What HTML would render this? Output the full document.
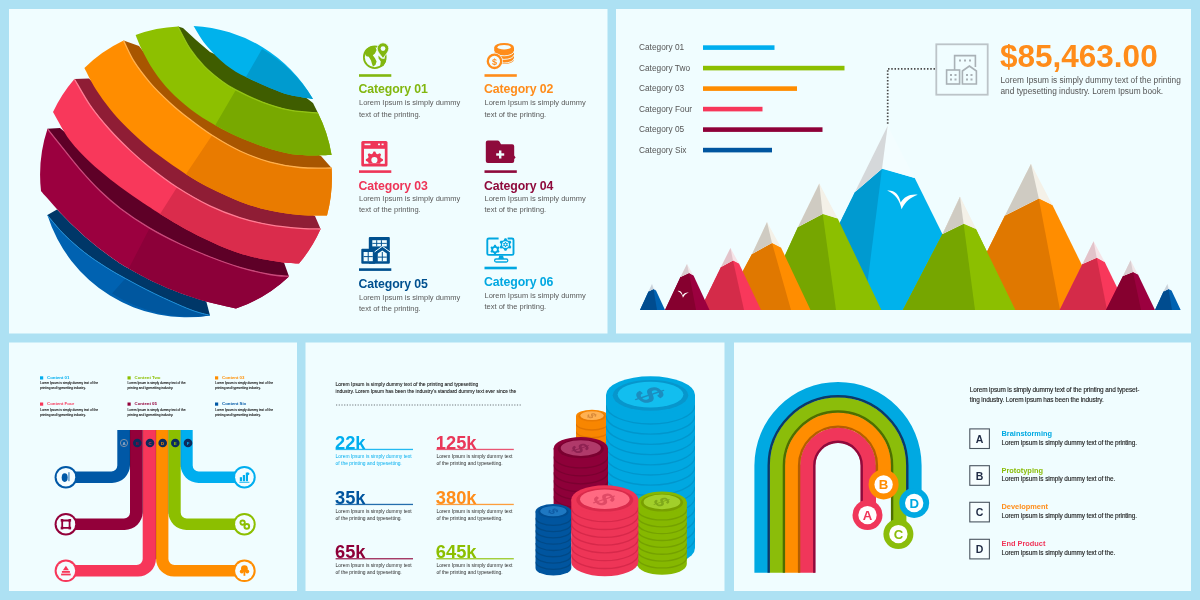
<!DOCTYPE html>
<html lang="en"><head><meta charset="utf-8"><title>Infographic dashboard</title>
<style>
html,body{margin:0;padding:0;background:#ADE1F3;}
body{width:1200px;height:600px;overflow:hidden;}
svg{display:block;font-family:"Liberation Sans",sans-serif;filter:blur(0.45px);}
</style></head><body>
<svg width="1200" height="600" viewBox="0 0 1200 600">
<rect x="0" y="0" width="1200" height="600" fill="#ADE1F3"/>
<rect x="9" y="9" width="598.5" height="324.5" fill="#F0FDFF"/>
<rect x="616" y="9" width="575" height="324.5" fill="#F0FDFF"/>
<rect x="9" y="342.5" width="288" height="248.5" fill="#F0FDFF"/>
<rect x="305.5" y="342.5" width="419.0" height="248.5" fill="#F0FDFF"/>
<rect x="734" y="342.5" width="457" height="248.5" fill="#F0FDFF"/>
<g id="sphere_part"><path d="M47.4,215.0L57.0,209.4C60.0,212.2 68.5,221.3 74.8,227.3 C81.1,233.3 88.2,239.7 94.9,245.1 C101.6,250.5 109.4,256.1 115.0,260.0 C120.6,263.9 122.0,264.8 128.7,268.6 C135.4,272.4 146.7,278.6 155.2,282.6 C163.7,286.6 171.0,289.7 179.5,292.8 C188.0,295.9 201.8,300.1 206.3,301.5L210.0,315.4C206.7,314.4 199.5,313.2 190.3,309.6 C181.1,306.0 165.4,298.9 154.6,293.7 C143.8,288.5 133.5,282.9 125.3,278.4 C117.1,273.9 112.0,271.0 105.2,266.7 C98.4,262.4 91.4,257.9 84.7,252.6 C78.0,247.3 70.7,240.9 64.9,235.2 C59.1,229.5 52.9,221.8 50.0,218.4 C47.1,215.0 47.8,215.6 47.4,215.0Z" fill="#003768"/>
<path d="M47.4,215.0C47.8,215.6 47.1,215.0 50.0,218.4 C52.9,221.8 59.1,229.5 64.9,235.2 C70.7,240.9 78.0,247.3 84.7,252.6 C91.4,257.9 98.4,262.4 105.2,266.7 C112.0,271.0 117.1,273.9 125.3,278.4 C133.5,282.9 143.8,288.5 154.6,293.7 C165.4,298.9 181.1,306.0 190.3,309.6 C199.5,313.2 206.7,314.4 210.0,315.4A146,146 0 0 1 47.4,215.0Z" fill="#0062B1"/>
<path d="M125.3,278.4C130.2,280.9 143.8,288.5 154.6,293.7 C165.4,298.9 181.1,306.0 190.3,309.6 C199.5,313.2 206.7,314.4 210.0,315.4A146,146 0 0 1 112.0,293.5Z" fill="#00579F"/>
<path d="M47.4,215.0C47.8,215.6 47.1,215.0 50.0,218.4 C52.9,221.8 59.1,229.5 64.9,235.2 C70.7,240.9 78.0,247.3 84.7,252.6 C91.4,257.9 98.4,262.4 105.2,266.7 C112.0,271.0 117.1,273.9 125.3,278.4 C133.5,282.9 143.8,288.5 154.6,293.7 C165.4,298.9 181.1,306.0 190.3,309.6 C199.5,313.2 206.7,314.4 210.0,315.4" fill="none" stroke="#1E8FD8" stroke-width="1"/>
<path d="M47.5,128.8L60.0,128.0L110.0,170.0L284.0,262.4L289.0,276.4C285.8,276.1 278.2,276.0 270.0,274.5 C261.8,273.0 249.8,270.2 239.8,267.3 C229.9,264.4 220.3,260.9 210.3,257.0 C200.3,253.1 190.1,248.8 180.0,244.0 C169.9,239.2 159.6,234.0 149.7,228.1 C139.8,222.2 128.7,214.7 120.4,208.4 C112.1,202.1 106.4,197.0 99.7,190.5 C93.0,184.0 86.9,177.3 80.2,169.6 C73.5,161.9 65.2,151.1 59.8,144.3 C54.3,137.5 49.5,131.4 47.5,128.8Z" fill="#5E0027"/>
<path d="M41.0,191.0A146,146 0 0 1 47.5,128.8C49.5,131.4 54.3,137.5 59.8,144.3 C65.2,151.1 73.5,161.9 80.2,169.6 C86.9,177.3 93.0,184.0 99.7,190.5 C106.4,197.0 112.1,202.1 120.4,208.4 C128.7,214.7 139.8,222.2 149.7,228.1 C159.6,234.0 169.9,239.2 180.0,244.0 C190.1,248.8 200.3,253.1 210.3,257.0 C220.3,260.9 229.9,264.4 239.8,267.3 C249.8,270.2 261.8,273.0 270.0,274.5 C278.2,276.0 285.8,276.1 289.0,276.4A146,146 0 0 1 236.0,308.5C231.1,307.3 215.7,304.1 206.3,301.5 C196.9,298.9 188.0,295.9 179.5,292.8 C171.0,289.7 163.7,286.6 155.2,282.6 C146.7,278.6 135.4,272.4 128.7,268.6 C122.0,264.8 120.6,263.9 115.0,260.0 C109.4,256.1 101.6,250.5 94.9,245.1 C88.2,239.7 81.1,233.3 74.8,227.3 C68.5,221.3 62.0,214.4 57.1,209.2 C52.2,203.9 47.8,198.8 45.1,195.8 C42.4,192.8 41.7,191.8 41.0,191.0Z" fill="#9B003F"/>
<path d="M149.7,228.1C154.8,230.8 169.9,239.2 180.0,244.0 C190.1,248.8 200.3,253.1 210.3,257.0 C220.3,260.9 229.9,264.4 239.8,267.3 C249.8,270.2 261.8,273.0 270.0,274.5 C278.2,276.0 285.8,276.1 289.0,276.4A146,146 0 0 1 236.0,308.5C231.1,307.3 215.7,304.1 206.3,301.5 C196.9,298.9 188.0,295.9 179.5,292.8 C171.0,289.7 163.7,286.6 155.2,282.6 C146.7,278.6 133.1,270.9 128.7,268.6Z" fill="#8C0039"/>
<path d="M47.5,128.8C49.5,131.4 54.3,137.5 59.8,144.3 C65.2,151.1 73.5,161.9 80.2,169.6 C86.9,177.3 93.0,184.0 99.7,190.5 C106.4,197.0 112.1,202.1 120.4,208.4 C128.7,214.7 139.8,222.2 149.7,228.1 C159.6,234.0 169.9,239.2 180.0,244.0 C190.1,248.8 200.3,253.1 210.3,257.0 C220.3,260.9 229.9,264.4 239.8,267.3 C249.8,270.2 261.8,273.0 270.0,274.5 C278.2,276.0 285.8,276.1 289.0,276.4" fill="none" stroke="#C9487A" stroke-width="1.3"/>
<path d="M74.4,79.0L89.0,78.6L130.0,120.0L315.0,216.0L320.6,229.0C317.2,228.9 308.8,229.1 300.4,228.4 C292.0,227.7 280.1,226.7 270.0,224.9 C259.9,223.1 249.6,220.8 239.6,217.6 C229.6,214.4 220.2,210.9 209.8,205.9 C199.4,200.9 187.1,193.8 177.0,187.3 C166.9,180.8 157.2,173.2 149.4,167.0 C141.6,160.8 136.5,156.3 129.9,150.1 C123.3,143.9 116.6,137.4 110.0,130.0 C103.4,122.6 96.2,114.1 90.3,105.6 C84.4,97.1 77.1,83.4 74.4,79.0Z" fill="#8F1D35"/>
<path d="M53.0,112.0A146,146 0 0 1 74.4,79.0C77.1,83.4 84.4,97.1 90.3,105.6 C96.2,114.1 103.4,122.6 110.0,130.0 C116.6,137.4 123.3,143.9 129.9,150.1 C136.5,156.3 141.6,160.8 149.4,167.0 C157.2,173.2 166.9,180.8 177.0,187.3 C187.1,193.8 199.4,200.9 209.8,205.9 C220.2,210.9 229.6,214.4 239.6,217.6 C249.6,220.8 259.9,223.1 270.0,224.9 C280.1,226.7 292.0,227.7 300.4,228.4 C308.8,229.1 317.2,228.9 320.6,229.0A146,146 0 0 1 299.0,263.6C295.8,263.3 288.2,263.2 280.0,262.0 C271.8,260.8 259.9,258.9 249.9,256.2 C239.9,253.5 230.1,250.0 220.1,245.9 C210.1,241.8 200.2,236.9 190.2,231.6 C180.2,226.3 166.9,218.0 160.1,213.9 C153.3,209.8 154.4,210.3 149.4,207.0 C144.4,203.7 136.6,198.5 130.1,193.9 C123.6,189.3 117.1,184.7 110.4,179.4 C103.7,174.1 96.7,168.6 89.9,162.1 C83.1,155.6 76.0,148.7 69.8,140.3 C63.6,132.0 55.8,116.7 53.0,112.0Z" fill="#F8385B"/>
<path d="M177.0,187.3C182.5,190.4 199.4,200.9 209.8,205.9 C220.2,210.9 229.6,214.4 239.6,217.6 C249.6,220.8 259.9,223.1 270.0,224.9 C280.1,226.7 292.0,227.7 300.4,228.4 C308.8,229.1 317.2,228.9 320.6,229.0A146,146 0 0 1 299.0,263.6C295.8,263.3 288.2,263.2 280.0,262.0 C271.8,260.8 259.9,258.9 249.9,256.2 C239.9,253.5 230.1,250.0 220.1,245.9 C210.1,241.8 200.2,236.9 190.2,231.6 C180.2,226.3 165.1,216.8 160.1,213.9Z" fill="#DA2C4C"/>
<path d="M74.4,79.0C77.1,83.4 84.4,97.1 90.3,105.6 C96.2,114.1 103.4,122.6 110.0,130.0 C116.6,137.4 123.3,143.9 129.9,150.1 C136.5,156.3 141.6,160.8 149.4,167.0 C157.2,173.2 166.9,180.8 177.0,187.3 C187.1,193.8 199.4,200.9 209.8,205.9 C220.2,210.9 229.6,214.4 239.6,217.6 C249.6,220.8 259.9,223.1 270.0,224.9 C280.1,226.7 292.0,227.7 300.4,228.4 C308.8,229.1 317.2,228.9 320.6,229.0" fill="none" stroke="#FF7C93" stroke-width="1.3"/>
<path d="M123.6,40.6L139.0,46.0L170.0,85.0L321.0,156.0L331.6,168.0C326.3,167.9 310.3,168.5 300.0,167.5 C289.7,166.5 279.9,164.8 269.9,162.1 C259.9,159.3 249.6,155.5 240.0,151.0 C230.4,146.5 220.5,140.6 212.1,135.3 C203.7,130.0 196.8,124.7 189.8,119.3 C182.8,113.9 176.7,109.0 170.1,102.9 C163.5,96.8 156.1,89.8 150.1,82.8 C144.1,75.8 138.3,68.2 133.9,61.2 C129.5,54.2 125.3,44.0 123.6,40.6Z" fill="#A85600"/>
<path d="M84.4,68.0A146,146 0 0 1 123.6,40.6C125.3,44.0 129.5,54.2 133.9,61.2 C138.3,68.2 144.1,75.8 150.1,82.8 C156.1,89.8 163.5,96.8 170.1,102.9 C176.7,109.0 182.8,113.9 189.8,119.3 C196.8,124.7 203.7,130.0 212.1,135.3 C220.5,140.6 230.4,146.5 240.0,151.0 C249.6,155.5 259.9,159.3 269.9,162.1 C279.9,164.8 289.7,166.5 300.0,167.5 C310.3,168.5 326.3,167.9 331.6,168.0A146,146 0 0 1 327.0,215.6C322.5,215.5 309.4,215.9 299.9,215.1 C290.4,214.3 279.8,212.8 269.9,210.6 C259.9,208.4 250.2,205.4 240.2,201.7 C230.2,197.9 219.1,192.7 210.0,188.1 C200.9,183.5 194.2,179.5 185.9,174.2 C177.6,168.9 167.5,161.8 159.9,156.1 C152.3,150.4 146.1,145.1 140.1,139.9 C134.1,134.7 129.1,129.9 124.1,124.8 C119.1,119.6 114.7,114.9 110.0,109.0 C105.3,103.1 100.1,96.1 95.8,89.3 C91.5,82.5 86.3,71.5 84.4,68.0Z" fill="#FF8D00"/>
<path d="M212.1,135.3C216.8,137.9 230.4,146.5 240.0,151.0 C249.6,155.5 259.9,159.3 269.9,162.1 C279.9,164.8 289.7,166.5 300.0,167.5 C310.3,168.5 326.3,167.9 331.6,168.0A146,146 0 0 1 327.0,215.6C322.5,215.5 309.4,215.9 299.9,215.1 C290.4,214.3 279.8,212.8 269.9,210.6 C259.9,208.4 250.2,205.4 240.2,201.7 C230.2,197.9 219.1,192.7 210.0,188.1 C200.9,183.5 189.9,176.5 185.9,174.2Z" fill="#E97B00"/>
<path d="M123.6,40.6C125.3,44.0 129.5,54.2 133.9,61.2 C138.3,68.2 144.1,75.8 150.1,82.8 C156.1,89.8 163.5,96.8 170.1,102.9 C176.7,109.0 182.8,113.9 189.8,119.3 C196.8,124.7 203.7,130.0 212.1,135.3 C220.5,140.6 230.4,146.5 240.0,151.0 C249.6,155.5 259.9,159.3 269.9,162.1 C279.9,164.8 289.7,166.5 300.0,167.5 C310.3,168.5 326.3,167.9 331.6,168.0" fill="none" stroke="#FFB04D" stroke-width="1.3"/>
<path d="M178.0,26.6L183.0,28.0L196.0,40.0L210.0,52.0L250.0,70.0L300.0,93.0L313.0,103.0L318.0,113.0C313.3,112.5 299.2,112.0 289.9,110.2 C280.6,108.4 271.3,105.5 262.3,102.1 C253.3,98.7 242.5,93.4 235.8,89.9 C229.1,86.4 227.1,85.1 221.9,81.2 C216.7,77.3 209.8,71.9 204.4,66.4 C199.1,60.9 194.2,55.0 189.8,48.4 C185.4,41.8 180.0,30.2 178.0,26.6Z" fill="#3F5D00"/>
<path d="M135.6,35.0A146,146 0 0 1 178.0,26.6C180.0,30.2 185.4,41.8 189.8,48.4 C194.2,55.0 199.1,60.9 204.4,66.4 C209.8,71.9 216.7,77.3 221.9,81.2 C227.1,85.1 229.1,86.4 235.8,89.9 C242.5,93.4 253.3,98.7 262.3,102.1 C271.3,105.5 280.6,108.4 289.9,110.2 C299.2,112.0 313.3,112.5 318.0,113.0A146,146 0 0 1 331.6,155.0C326.3,155.0 309.8,156.1 299.6,155.1 C289.4,154.1 280.3,151.8 270.4,148.9 C260.5,146.0 249.4,141.6 240.2,137.7 C231.0,133.8 223.5,129.9 215.2,125.2 C206.9,120.5 198.0,114.9 190.5,109.2 C183.0,103.5 176.1,97.4 170.0,91.0 C163.9,84.6 158.7,77.9 154.0,71.0 C149.3,64.1 144.9,55.4 141.8,49.4 C138.7,43.4 136.6,37.4 135.6,35.0Z" fill="#8DC000"/>
<path d="M235.8,89.9C240.2,91.9 253.3,98.7 262.3,102.1 C271.3,105.5 280.6,108.4 289.9,110.2 C299.2,112.0 313.3,112.5 318.0,113.0A146,146 0 0 1 331.6,155.0C326.3,155.0 309.8,156.1 299.6,155.1 C289.4,154.1 280.3,151.8 270.4,148.9 C260.5,146.0 249.4,141.6 240.2,137.7 C231.0,133.8 219.4,127.3 215.2,125.2Z" fill="#78A900"/>
<path d="M178.0,26.6C180.0,30.2 185.4,41.8 189.8,48.4 C194.2,55.0 199.1,60.9 204.4,66.4 C209.8,71.9 216.7,77.3 221.9,81.2 C227.1,85.1 229.1,86.4 235.8,89.9 C242.5,93.4 253.3,98.7 262.3,102.1 C271.3,105.5 280.6,108.4 289.9,110.2 C299.2,112.0 313.3,112.5 318.0,113.0" fill="none" stroke="#93C414" stroke-width="1.3"/>
<path d="M193.6,26.0A146,146 0 0 1 313.0,99.0C309.2,98.3 297.2,96.8 290.0,95.0 C282.8,93.2 277.4,90.9 270.0,87.9 C262.6,84.9 253.2,80.9 245.9,77.1 C238.6,73.3 232.7,70.2 226.0,64.9 C219.3,59.6 211.4,51.5 206.0,45.0 C200.6,38.5 195.7,29.2 193.6,26.0Z" fill="#00B2EC"/>
<path d="M262.0,49.0A146,146 0 0 1 313.0,99.0C309.2,98.3 297.2,96.8 290.0,95.0 C282.8,93.2 277.4,90.9 270.0,87.9 C262.6,84.9 249.9,78.9 245.9,77.1Z" fill="#009BCF"/></g>
<g id="cats_part"><circle cx="374.8" cy="57.2" r="10.9" fill="none" stroke="#82B70F" stroke-width="1.8"/><path d="M364.6,53 L366,49.5 L369,47.2 L375,46 L376.6,50 L375,53.6 L372.8,55.2 L375,58.2 L376.6,61.4 L375.4,65 L373,66.6 L372,64 L371,60.4 L368.8,56.8 L366.4,56.2 Z" fill="#82B70F"/><path d="M378.4,55.4 L381.4,58.4 L385.6,59 L386,61.6 L383.4,66 L380,67 L380.8,61.4 L378.6,58.6 Z" fill="#82B70F"/><path d="M383,58.5 C380.5,54.5 377.2,52 377.2,48.6 A5.8,5.8 0 1 1 388.8,48.6 C388.8,52 385.5,54.5 383,58.5Z" fill="#82B70F" stroke="#F0FDFF" stroke-width="0.8"/><circle cx="383" cy="48.6" r="2.4" fill="#F0FDFF"/><rect x="359" y="74.2" width="32.3" height="2.6" fill="#82B70F"/><text x="358.5" y="93.2" font-size="12.3" fill="#82B70F" font-weight="bold" text-anchor="start" letter-spacing="-0.1">Category 01</text><text x="359" y="105.3" font-size="7.5" fill="#5A5A5A" font-weight="normal" text-anchor="start" >Lorem Ipsum is simply dummy</text><text x="359" y="116.6" font-size="7.5" fill="#5A5A5A" font-weight="normal" text-anchor="start" >text of the printing.</text><path d="M494.2,47.5 A9.9,4.6 0 0 1 514,47.5 L514,59.5 A9.9,4.6 0 0 1 494.2,59.5Z" fill="#FF8C1A"/><ellipse cx="504.1" cy="47.2" rx="6.6" ry="2.3" fill="#F0FDFF"/><path d="M494.2,51.2 A9.9,4.6 0 0 0 514,51.2" fill="none" stroke="#F0FDFF" stroke-width="0.9"/><path d="M494.2,54.8 A9.9,4.6 0 0 0 514,54.8" fill="none" stroke="#F0FDFF" stroke-width="0.9"/><path d="M494.2,58.4 A9.9,4.6 0 0 0 514,58.4" fill="none" stroke="#F0FDFF" stroke-width="0.9"/><circle cx="494.5" cy="61.3" r="8.4" fill="#F0FDFF"/><circle cx="494.5" cy="61.3" r="6.7" fill="none" stroke="#FF8C1A" stroke-width="2.3"/><text x="494.5" y="64.6" font-size="9" fill="#FF8C1A" font-weight="bold" text-anchor="middle" >$</text><rect x="484.5" y="74.2" width="32.3" height="2.6" fill="#FF8C1A"/><text x="484.0" y="93.2" font-size="12.3" fill="#FF8C1A" font-weight="bold" text-anchor="start" letter-spacing="-0.1">Category 02</text><text x="484.5" y="105.3" font-size="7.5" fill="#5A5A5A" font-weight="normal" text-anchor="start" >Lorem Ipsum is simply dummy</text><text x="484.5" y="116.6" font-size="7.5" fill="#5A5A5A" font-weight="normal" text-anchor="start" >text of the printing.</text><rect x="361.3" y="141" width="26.2" height="25.4" rx="1.5" fill="#EE3558"/><rect x="364" y="148.8" width="20.8" height="15" fill="#F0FDFF"/><rect x="364.5" y="143.6" width="6" height="1.6" fill="#F0FDFF"/><rect x="378" y="143.6" width="2" height="1.6" fill="#F0FDFF"/><rect x="381.6" y="143.6" width="2" height="1.6" fill="#F0FDFF"/><clipPath id="gclip"><rect x="364" y="148.8" width="20.8" height="15"/></clipPath><g clip-path="url(#gclip)"><polygon points="373.56,151.44 375.24,151.44 376.32,153.68 377.51,154.18 379.86,153.35 381.05,154.54 380.22,156.89 380.72,158.08 382.96,159.16 382.96,160.84 380.72,161.92 380.22,163.11 381.05,165.46 379.86,166.65 377.51,165.82 376.32,166.32 375.24,168.56 373.56,168.56 372.48,166.32 371.29,165.82 368.94,166.65 367.75,165.46 368.58,163.11 368.08,161.92 365.84,160.84 365.84,159.16 368.08,158.08 368.58,156.89 367.75,154.54 368.94,153.35 371.29,154.18 372.48,153.68" fill="#EE3558"/><circle cx="374.4" cy="160" r="3.1" fill="#F0FDFF"/></g><rect x="359" y="170.29999999999998" width="32.3" height="2.6" fill="#EE3558"/><text x="358.5" y="189.7" font-size="12.3" fill="#EE3558" font-weight="bold" text-anchor="start" letter-spacing="-0.1">Category 03</text><text x="359" y="200.8" font-size="7.5" fill="#5A5A5A" font-weight="normal" text-anchor="start" >Lorem Ipsum is simply dummy</text><text x="359" y="212.1" font-size="7.5" fill="#5A5A5A" font-weight="normal" text-anchor="start" >text of the printing.</text><path d="M485.8,142.5 Q485.8,140.6 487.8,140.6 L497.5,140.6 Q498.8,140.6 499.6,141.8 L501,144.2 L512.2,144.2 Q514.2,144.2 514.2,146.2 L514.2,155.5 L515.6,157.5 L514.2,159 L514.2,161 Q514.2,163 512.2,163 L487.8,163 Q485.8,163 485.8,161Z" fill="#8E0A3C"/><rect x="496.2" y="153.3" width="8" height="2.4" fill="#F0FDFF"/><rect x="499" y="150.5" width="2.4" height="8" fill="#F0FDFF"/><rect x="484.5" y="170.29999999999998" width="32.3" height="2.6" fill="#8E0A3C"/><text x="484.0" y="189.7" font-size="12.3" fill="#8E0A3C" font-weight="bold" text-anchor="start" letter-spacing="-0.1">Category 04</text><text x="484.5" y="200.8" font-size="7.5" fill="#5A5A5A" font-weight="normal" text-anchor="start" >Lorem Ipsum is simply dummy</text><text x="484.5" y="212.1" font-size="7.5" fill="#5A5A5A" font-weight="normal" text-anchor="start" >text of the printing.</text><rect x="368.8" y="237" width="21" height="26.8" rx="1" fill="#00508F"/><rect x="361.3" y="248.8" width="14" height="15" rx="1" fill="#00508F"/><rect x="372.3" y="240.2" width="14.5" height="6.2" fill="#F0FDFF"/><rect x="376.2" y="240.2" width="1" height="6.2" fill="#00508F"/><rect x="380.9" y="240.2" width="1" height="6.2" fill="#00508F"/><rect x="372.3" y="242.9" width="14.5" height="0.9" fill="#00508F"/><path d="M375.4,251.6 L382.3,246.6 L389.2,251.6 L389.2,263 L375.4,263Z" fill="#00508F"/><path d="M374.6,251.9 L382.3,246.3 L390,251.9" fill="none" stroke="#F0FDFF" stroke-width="1"/><rect x="363.6" y="252" width="9.2" height="9.2" fill="#F0FDFF"/><rect x="367.7" y="252" width="1" height="9.2" fill="#00508F"/><rect x="363.6" y="256.1" width="9.2" height="1" fill="#00508F"/><path d="M377.8,253.4 L382.3,250.4 L386.8,253.4 L386.8,261.2 L377.8,261.2Z" fill="#F0FDFF"/><rect x="381.8" y="252" width="1" height="9.2" fill="#00508F"/><rect x="377.8" y="256.6" width="9" height="1" fill="#00508F"/><rect x="359" y="268.3" width="32.3" height="2.6" fill="#00508F"/><text x="358.5" y="287.7" font-size="12.3" fill="#00508F" font-weight="bold" text-anchor="start" letter-spacing="-0.1">Category 05</text><text x="359" y="299.6" font-size="7.5" fill="#5A5A5A" font-weight="normal" text-anchor="start" >Lorem Ipsum is simply dummy</text><text x="359" y="310.9" font-size="7.5" fill="#5A5A5A" font-weight="normal" text-anchor="start" >text of the printing.</text><rect x="487.3" y="238.5" width="26.2" height="16.4" rx="1.5" fill="none" stroke="#00A7E1" stroke-width="1.9"/><rect x="498.6" y="236" width="9" height="5" fill="#F0FDFF"/><polygon points="504.68,238.35 506.32,238.35 507.30,240.26 508.36,240.87 510.50,240.76 511.32,242.19 510.16,243.99 510.16,245.21 511.32,247.01 510.50,248.44 508.36,248.33 507.30,248.94 506.32,250.85 504.68,250.85 503.70,248.94 502.64,248.33 500.50,248.44 499.68,247.01 500.84,245.21 500.84,243.99 499.68,242.19 500.50,240.76 502.64,240.87 503.70,240.26" fill="#00A7E1"/><circle cx="505.5" cy="244.6" r="3.4" fill="#F0FDFF"/><polygon points="505.16,242.02 505.84,242.02 506.23,242.84 506.66,243.09 507.56,243.02 507.90,243.61 507.38,244.35 507.38,244.85 507.90,245.59 507.56,246.18 506.66,246.11 506.23,246.36 505.84,247.18 505.16,247.18 504.77,246.36 504.34,246.11 503.44,246.18 503.10,245.59 503.62,244.85 503.62,244.35 503.10,243.61 503.44,243.02 504.34,243.09 504.77,242.84" fill="#00A7E1"/><circle cx="505.5" cy="244.6" r="1.0" fill="#F0FDFF"/><polygon points="494.36,244.74 495.64,244.74 496.42,246.18 497.25,246.66 498.89,246.62 499.53,247.72 498.67,249.12 498.67,250.08 499.53,251.48 498.89,252.58 497.25,252.54 496.42,253.02 495.64,254.46 494.36,254.46 493.58,253.02 492.75,252.54 491.11,252.58 490.47,251.48 491.33,250.08 491.33,249.12 490.47,247.72 491.11,246.62 492.75,246.66 493.58,246.18" fill="#00A7E1"/><circle cx="495" cy="249.6" r="1.9" fill="#F0FDFF"/><path d="M499.3,255.5 L503,255.5 L504,259 L498.3,259Z" fill="#00A7E1"/><rect x="494.6" y="259" width="13.2" height="3" rx="1.5" fill="none" stroke="#00A7E1" stroke-width="1.3"/><rect x="484.5" y="266.7" width="32.3" height="2.6" fill="#00A7E1"/><text x="484.0" y="286.09999999999997" font-size="12.3" fill="#00A7E1" font-weight="bold" text-anchor="start" letter-spacing="-0.1">Category 06</text><text x="484.5" y="298.0" font-size="7.5" fill="#5A5A5A" font-weight="normal" text-anchor="start" >Lorem Ipsum is simply dummy</text><text x="484.5" y="309.29999999999995" font-size="7.5" fill="#5A5A5A" font-weight="normal" text-anchor="start" >text of the printing.</text></g>
<g id="bars_part"><text x="639" y="50.1" font-size="8.3" fill="#555" font-weight="normal" text-anchor="start" >Category 01</text><rect x="703" y="45.3" width="71.5" height="4.6" fill="#00AEEF"/><text x="639" y="70.6" font-size="8.3" fill="#555" font-weight="normal" text-anchor="start" >Category Two</text><rect x="703" y="65.8" width="141.5" height="4.6" fill="#8CBF00"/><text x="639" y="91.1" font-size="8.3" fill="#555" font-weight="normal" text-anchor="start" >Category 03</text><rect x="703" y="86.3" width="94" height="4.6" fill="#FF8C00"/><text x="639" y="111.6" font-size="8.3" fill="#555" font-weight="normal" text-anchor="start" >Category Four</text><rect x="703" y="106.8" width="59.5" height="4.6" fill="#F7375A"/><text x="639" y="132.1" font-size="8.3" fill="#555" font-weight="normal" text-anchor="start" >Category 05</text><rect x="703" y="127.3" width="119.5" height="4.6" fill="#8E0038"/><text x="639" y="152.6" font-size="8.3" fill="#555" font-weight="normal" text-anchor="start" >Category Six</text><rect x="703" y="147.8" width="69" height="4.6" fill="#00559F"/><path d="M935,68.8 L887.7,68.8 L887.7,124" fill="none" stroke="#4A4A4A" stroke-width="1.7" stroke-dasharray="1.5 1.75"/><rect x="936.3" y="44.3" width="51.4" height="50.4" fill="none" stroke="#BCC4C8" stroke-width="1.8"/><g fill="none" stroke="#A9B1B6" stroke-width="1.6"><path d="M954.6,70 L954.6,55.6 L975.4,55.6 L975.4,67"/><rect x="946.6" y="70" width="13" height="14"/><path d="M962.4,84 L962.4,71 L969.4,66 L976.4,71 L976.4,84Z"/></g><rect x="959" y="59.5" width="2" height="2" fill="#A9B1B6"/><rect x="964" y="59.5" width="2" height="2" fill="#A9B1B6"/><rect x="969" y="59.5" width="2" height="2" fill="#A9B1B6"/><rect x="950" y="74" width="2" height="2" fill="#A9B1B6"/><rect x="954.5" y="74" width="2" height="2" fill="#A9B1B6"/><rect x="950" y="78.5" width="2" height="2" fill="#A9B1B6"/><rect x="954.5" y="78.5" width="2" height="2" fill="#A9B1B6"/><rect x="966" y="74" width="2" height="2" fill="#A9B1B6"/><rect x="970.5" y="74" width="2" height="2" fill="#A9B1B6"/><rect x="966" y="78.5" width="2" height="2" fill="#A9B1B6"/><rect x="970.5" y="78.5" width="2" height="2" fill="#A9B1B6"/><text x="1000" y="66.8" font-size="31.5" fill="#FF8C1A" font-weight="bold" text-anchor="start" >$85,463.00</text><text x="1000.5" y="83.2" font-size="8.3" fill="#555" font-weight="normal" text-anchor="start" >Lorem Ipsum is simply dummy text of the printing</text><text x="1000.5" y="93.9" font-size="8.3" fill="#555" font-weight="normal" text-anchor="start" >and typesetting industry. Lorem Ipsum book.</text></g>
<g id="mountains_part"><polygon points="882,168.3 914.7,178 980,310 797,310 855,192" fill="#00B2EC"/><polygon points="855,192 882,168.8 864,310 797,310" fill="#009AD0"/><polygon points="887.7,125.7 914.7,178 882,168.8 855,192" fill="#F3FDFF"/><polygon points="887.7,125.7 882,168.8 855,192" fill="#D5D8DA"/><polygon points="822.7,213.5 837.7,218.4 881.4,310 760,310 798,227" fill="#8CBF00"/><polygon points="798,227 822.7,214 836,310 760,310" fill="#76A600"/><polygon points="819.3,183.5 837.7,218.4 822.7,214 798,227" fill="#F4F1E8"/><polygon points="819.3,183.5 822.7,214 798,227" fill="#CFCBC2"/><polygon points="963.6,223.2 975.9,229 1015.4,310 903,310 942.6,234" fill="#8CBF00"/><polygon points="942.6,234 963.6,223.7 975,310 903,310" fill="#76A600"/><polygon points="960,196.8 975.9,229 963.6,223.7 942.6,234" fill="#F4F1E8"/><polygon points="960,196.8 963.6,223.7 942.6,234" fill="#CFCBC2"/><polygon points="1038.8,198.1 1052.4,205 1104,310 958,310 1005,215.4" fill="#FF8D00"/><polygon points="1005,215.4 1038.8,198.6 1060,310 958,310" fill="#E07800"/><polygon points="1031,163.7 1052.4,205 1038.8,198.6 1005,215.4" fill="#F4F1E8"/><polygon points="1031,163.7 1038.8,198.6 1005,215.4" fill="#CFCBC2"/><polygon points="963.6,223.2 975.9,229 1015.4,310 903,310 942.6,234" fill="#8CBF00"/><polygon points="942.6,234 963.6,223.7 975,310 903,310" fill="#76A600"/><polygon points="960,196.8 975.9,229 963.6,223.7 942.6,234" fill="#F4F1E8"/><polygon points="960,196.8 963.6,223.7 942.6,234" fill="#CFCBC2"/><polygon points="772,242.5 781,247.5 810.5,310 722,310 752,254" fill="#FF8D00"/><polygon points="752,254 772,243 791,310 722,310" fill="#E07800"/><polygon points="767,222 781,247.5 772,243 752,254" fill="#F4F1E8"/><polygon points="767,222 772,243 752,254" fill="#CFCBC2"/><polygon points="733,260.0 739,263.5 761,310 700,310 721,267" fill="#F8385B"/><polygon points="721,267 733,260.5 744,310 700,310" fill="#D42B49"/><polygon points="730.5,248 739,263.5 733,260.5 721,267" fill="#F6E3E7"/><polygon points="730.5,248 733,260.5 721,267" fill="#E2C3CA"/><polygon points="1096.7,257.3 1104.7,262 1128,310 1059.7,310 1082.5,264" fill="#F8385B"/><polygon points="1082.5,264 1096.7,257.8 1107,310 1059.7,310" fill="#D42B49"/><polygon points="1093.6,241.3 1104.7,262 1096.7,257.8 1082.5,264" fill="#F6E3E7"/><polygon points="1093.6,241.3 1096.7,257.8 1082.5,264" fill="#E2C3CA"/><polygon points="689,272.5 693.5,275.5 709.5,310 665,310 680.5,277" fill="#9B003F"/><polygon points="680.5,277 689,273 696,310 665,310" fill="#86002F"/><polygon points="687,264 693.5,275.5 689,273 680.5,277" fill="#F1E8EA"/><polygon points="687,264 689,273 680.5,277" fill="#D9CDD0"/><polygon points="1133,271.5 1138,274.5 1155,310 1106,310 1123,276" fill="#9B003F"/><polygon points="1123,276 1133,272 1141,310 1106,310" fill="#86002F"/><polygon points="1130.6,260.3 1138,274.5 1133,272 1123,276" fill="#F1E8EA"/><polygon points="1130.6,260.3 1133,272 1123,276" fill="#D9CDD0"/><polygon points="653.5,288.5 656,290.5 665,310 640,310 648.5,291.5" fill="#0062B1"/><polygon points="648.5,291.5 653.5,289 657,310 640,310" fill="#004C8F"/><polygon points="652,284 656,290.5 653.5,289 648.5,291.5" fill="#EEF4F8"/><polygon points="652,284 653.5,289 648.5,291.5" fill="#C9D3DC"/><polygon points="1168.5,288.5 1171.5,290.5 1180.7,310 1155,310 1163.5,291.5" fill="#0062B1"/><polygon points="1163.5,291.5 1168.5,289 1172,310 1155,310" fill="#004C8F"/><polygon points="1167.4,284 1171.5,290.5 1168.5,289 1163.5,291.5" fill="#EEF4F8"/><polygon points="1167.4,284 1168.5,289 1163.5,291.5" fill="#C9D3DC"/><path transform="translate(899,199) scale(1.7)" d="M-7,-5 C-3,-5.5 0,-3 1,2 C3,-1 6,-3 11,-2.5 C7,-1 4,1 1.5,6 C0.5,1 -2,-3 -7,-5Z" fill="#fff"/><path transform="translate(682,294) scale(0.62)" d="M-7,-5 C-3,-5.5 0,-3 1,2 C3,-1 6,-3 11,-2.5 C7,-1 4,1 1.5,6 C0.5,1 -2,-3 -7,-5Z" fill="#fff"/></g>
<g id="pipes_part"><path d="M142.7,430 L156,430 L156,558.5 A18,18 0 0 1 138,576.5 L65.9,576.5 L65.9,565.0999999999999 L136.7,565.0999999999999 A6,6 0 0 0 142.7,559.0999999999999 Z" fill="#F7375A"/><path d="M168.4,430 L156,430 L156,558.5 A18,18 0 0 0 174,576.5 L244.4,576.5 L244.4,565.0999999999999 L174.4,565.0999999999999 A6,6 0 0 1 168.4,559.0999999999999 Z" fill="#FF8D00"/><path d="M130,430 L142.7,430 L142.7,511.9000000000001 A18,18 0 0 1 124.69999999999999,529.9000000000001 L65.9,529.9000000000001 L65.9,518.5 L124,518.5 A6,6 0 0 0 130,512.5 Z" fill="#93003A"/><path d="M180.7,430 L168.4,430 L168.4,511.9000000000001 A18,18 0 0 0 186.4,529.9000000000001 L244.4,529.9000000000001 L244.4,518.5 L186.7,518.5 A6,6 0 0 1 180.7,512.5 Z" fill="#8CBF00"/><path d="M117.3,430 L130,430 L130,464.9 A18,18 0 0 1 112,482.9 L65.9,482.9 L65.9,471.5 L111.3,471.5 A6,6 0 0 0 117.3,465.5 Z" fill="#0058A6"/><path d="M192.7,430 L180.7,430 L180.7,464.9 A18,18 0 0 0 198.7,482.9 L244.4,482.9 L244.4,471.5 L198.7,471.5 A6,6 0 0 1 192.7,465.5 Z" fill="#00AEEF"/><rect x="129.4" y="430" width="1.2" height="37.19999999999999" fill="#000" opacity="0.13"/><rect x="142.1" y="430" width="1.2" height="84.20000000000005" fill="#000" opacity="0.13"/><rect x="155.4" y="430" width="1.2" height="128.79999999999995" fill="#000" opacity="0.13"/><rect x="167.8" y="430" width="1.2" height="84.20000000000005" fill="#000" opacity="0.13"/><rect x="180.1" y="430" width="1.2" height="37.19999999999999" fill="#000" opacity="0.13"/><circle cx="124" cy="443" r="3.6" fill="none" stroke="#7D8FA6" stroke-width="1"/><text x="124" y="444.6" font-size="4.4" fill="#9FB0C8" font-weight="bold" text-anchor="middle" >A</text><circle cx="137.3" cy="443" r="4.3" fill="#0B2B5C"/><text x="137.3" y="444.6" font-size="4.4" fill="#93003A" font-weight="bold" text-anchor="middle" >B</text><circle cx="150" cy="443" r="4.3" fill="#0B2B5C"/><text x="150" y="444.6" font-size="4.4" fill="#F7375A" font-weight="bold" text-anchor="middle" >C</text><circle cx="162.7" cy="443" r="4.3" fill="#0B2B5C"/><text x="162.7" y="444.6" font-size="4.4" fill="#FF8D00" font-weight="bold" text-anchor="middle" >D</text><circle cx="175.3" cy="443" r="4.3" fill="#0B2B5C"/><text x="175.3" y="444.6" font-size="4.4" fill="#8CBF00" font-weight="bold" text-anchor="middle" >E</text><circle cx="188" cy="443" r="4.3" fill="#0B2B5C"/><text x="188" y="444.6" font-size="4.4" fill="#00AEEF" font-weight="bold" text-anchor="middle" >F</text><circle cx="65.9" cy="477.2" r="11.3" fill="#0058A6"/><circle cx="65.9" cy="477.2" r="9.3" fill="#F4FDFF"/><g transform="translate(65.9,477.2)" fill="#0058A6"><ellipse cx="-1.2" cy="0.4" rx="3" ry="4.3"/><rect x="2.6" y="-5" width="0.9" height="9" /></g><circle cx="65.9" cy="524.2" r="11.3" fill="#93003A"/><circle cx="65.9" cy="524.2" r="9.3" fill="#F4FDFF"/><g transform="translate(65.9,524.2)" fill="#93003A"><path d="M-4.6,-4.6 H4.6 V4.6 H-4.6Z M-2.8,-2.8 V2.8 H2.8 V-2.8Z" fill-rule="evenodd"/><rect x="-5.2" y="-5.2" width="2.6" height="2.6"/><rect x="2.6" y="-5.2" width="2.6" height="2.6"/><rect x="-5.2" y="2.6" width="2.6" height="2.6"/><rect x="2.6" y="2.6" width="2.6" height="2.6"/></g><circle cx="65.9" cy="570.8" r="11.3" fill="#F7375A"/><circle cx="65.9" cy="570.8" r="9.3" fill="#F4FDFF"/><g transform="translate(65.9,570.8)" fill="#F7375A"><path d="M0,-5 L3,-0.5 H-3Z"/><rect x="-4" y="0.2" width="8" height="1.8"/><rect x="-4.8" y="2.8" width="9.6" height="1.8"/></g><circle cx="244.4" cy="477.2" r="11.3" fill="#00AEEF"/><circle cx="244.4" cy="477.2" r="9.3" fill="#F4FDFF"/><g transform="translate(244.4,477.2)" fill="#00AEEF"><rect x="-4.6" y="0" width="2.2" height="4"/><rect x="-1.6" y="-2.2" width="2.2" height="6.2"/><rect x="1.4" y="-4.6" width="2.2" height="8.6"/><rect x="-5" y="4.6" width="10" height="0.9"/><circle cx="3.6" cy="-3.4" r="1.4"/></g><circle cx="244.4" cy="524.2" r="11.3" fill="#8CBF00"/><circle cx="244.4" cy="524.2" r="9.3" fill="#F4FDFF"/><g transform="translate(244.4,524.2)" fill="#8CBF00"><circle cx="-1.8" cy="-1.6" r="3.1"/><circle cx="-1.8" cy="-1.6" r="1.2" fill="#F4FDFF"/><circle cx="2.4" cy="2.2" r="3.3"/><circle cx="2.4" cy="2.2" r="1.3" fill="#F4FDFF"/></g><circle cx="244.4" cy="570.8" r="11.3" fill="#FF8D00"/><circle cx="244.4" cy="570.8" r="9.3" fill="#F4FDFF"/><g transform="translate(244.4,570.8)" fill="#FF8D00"><circle cx="0" cy="-2.2" r="3.4"/><circle cx="-2.6" cy="0.6" r="2"/><circle cx="2.8" cy="0.8" r="2"/><rect x="-0.9" y="0" width="1.8" height="5"/></g><rect x="40" y="376.3" width="3.2" height="3.2" fill="#00AEEF"/><text x="47" y="379.1" font-size="4.35" fill="#00AEEF" font-weight="bold" text-anchor="start" >Content 01</text><text x="40" y="384.1" font-size="3.2" fill="#222" font-weight="normal" text-anchor="start" stroke="#222" stroke-width="0.12">Lorem Ipsum is simply dummy text of the</text><text x="40" y="388.8" font-size="3.2" fill="#222" font-weight="normal" text-anchor="start" stroke="#222" stroke-width="0.12">printing and typesetting industry.</text><rect x="127.5" y="376.3" width="3.2" height="3.2" fill="#8CBF00"/><text x="134.5" y="379.1" font-size="4.35" fill="#8CBF00" font-weight="bold" text-anchor="start" >Content Two</text><text x="127.5" y="384.1" font-size="3.2" fill="#222" font-weight="normal" text-anchor="start" stroke="#222" stroke-width="0.12">Lorem Ipsum is simply dummy text of the</text><text x="127.5" y="388.8" font-size="3.2" fill="#222" font-weight="normal" text-anchor="start" stroke="#222" stroke-width="0.12">printing and typesetting industry.</text><rect x="215" y="376.3" width="3.2" height="3.2" fill="#FF8D00"/><text x="222" y="379.1" font-size="4.35" fill="#FF8D00" font-weight="bold" text-anchor="start" >Content 03</text><text x="215" y="384.1" font-size="3.2" fill="#222" font-weight="normal" text-anchor="start" stroke="#222" stroke-width="0.12">Lorem Ipsum is simply dummy text of the</text><text x="215" y="388.8" font-size="3.2" fill="#222" font-weight="normal" text-anchor="start" stroke="#222" stroke-width="0.12">printing and typesetting industry.</text><rect x="40" y="402.5" width="3.2" height="3.2" fill="#F7375A"/><text x="47" y="405.3" font-size="4.35" fill="#F7375A" font-weight="bold" text-anchor="start" >Content Four</text><text x="40" y="410.70000000000005" font-size="3.2" fill="#222" font-weight="normal" text-anchor="start" stroke="#222" stroke-width="0.12">Lorem Ipsum is simply dummy text of the</text><text x="40" y="415.5" font-size="3.2" fill="#222" font-weight="normal" text-anchor="start" stroke="#222" stroke-width="0.12">printing and typesetting industry.</text><rect x="127.5" y="402.5" width="3.2" height="3.2" fill="#93003A"/><text x="134.5" y="405.3" font-size="4.35" fill="#93003A" font-weight="bold" text-anchor="start" >Content 05</text><text x="127.5" y="410.70000000000005" font-size="3.2" fill="#222" font-weight="normal" text-anchor="start" stroke="#222" stroke-width="0.12">Lorem Ipsum is simply dummy text of the</text><text x="127.5" y="415.5" font-size="3.2" fill="#222" font-weight="normal" text-anchor="start" stroke="#222" stroke-width="0.12">printing and typesetting industry.</text><rect x="215" y="402.5" width="3.2" height="3.2" fill="#0058A6"/><text x="222" y="405.3" font-size="4.35" fill="#0058A6" font-weight="bold" text-anchor="start" >Content Six</text><text x="215" y="410.70000000000005" font-size="3.2" fill="#222" font-weight="normal" text-anchor="start" stroke="#222" stroke-width="0.12">Lorem Ipsum is simply dummy text of the</text><text x="215" y="415.5" font-size="3.2" fill="#222" font-weight="normal" text-anchor="start" stroke="#222" stroke-width="0.12">printing and typesetting industry.</text></g>
<g id="stats_part"><text x="335.6" y="385.5" font-size="4.97" fill="#222" font-weight="normal" text-anchor="start" stroke="#222" stroke-width="0.1">Lorem Ipsum is simply dummy text of the printing and typesetting</text><text x="335.6" y="392.6" font-size="4.97" fill="#222" font-weight="normal" text-anchor="start" stroke="#222" stroke-width="0.1">industry. Lorem Ipsum has been the industry's standard dummy text ever since the</text><path d="M336,405 L521,405" stroke="#6E767B" stroke-width="1.1" stroke-dasharray="1.2 1.5" fill="none"/><text x="335.0" y="448.5" font-size="18.3" fill="#00AEEF" font-weight="bold" text-anchor="start" >22k</text><rect x="335.6" y="448.8" width="77.4" height="1.3" fill="#00AEEF" opacity="0.85"/><text x="335.6" y="457.8" font-size="4.95" fill="#00AEEF" font-weight="normal" text-anchor="start" >Lorem Ipsum is simply dummy text</text><text x="335.6" y="464.7" font-size="4.95" fill="#00AEEF" font-weight="normal" text-anchor="start" >of the printing and typesetting.</text><text x="435.79999999999995" y="448.5" font-size="18.3" fill="#E9385A" font-weight="bold" text-anchor="start" >125k</text><rect x="436.4" y="448.8" width="77.4" height="1.3" fill="#E9385A" opacity="0.85"/><text x="436.4" y="457.8" font-size="4.95" fill="#2A2A2A" font-weight="normal" text-anchor="start" >Lorem Ipsum is simply dummy text</text><text x="436.4" y="464.7" font-size="4.95" fill="#2A2A2A" font-weight="normal" text-anchor="start" >of the printing and typesetting.</text><text x="335.0" y="503.5" font-size="18.3" fill="#00559F" font-weight="bold" text-anchor="start" >35k</text><rect x="335.6" y="503.8" width="77.4" height="1.3" fill="#00559F" opacity="0.85"/><text x="335.6" y="512.8" font-size="4.95" fill="#2A2A2A" font-weight="normal" text-anchor="start" >Lorem Ipsum is simply dummy text</text><text x="335.6" y="519.7" font-size="4.95" fill="#2A2A2A" font-weight="normal" text-anchor="start" >of the printing and typesetting.</text><text x="435.79999999999995" y="503.5" font-size="18.3" fill="#FF8D1A" font-weight="bold" text-anchor="start" >380k</text><rect x="436.4" y="503.8" width="77.4" height="1.3" fill="#FF8D1A" opacity="0.85"/><text x="436.4" y="512.8" font-size="4.95" fill="#2A2A2A" font-weight="normal" text-anchor="start" >Lorem Ipsum is simply dummy text</text><text x="436.4" y="519.7" font-size="4.95" fill="#2A2A2A" font-weight="normal" text-anchor="start" >of the printing and typesetting.</text><text x="335.0" y="557.8" font-size="18.3" fill="#8E0038" font-weight="bold" text-anchor="start" >65k</text><rect x="335.6" y="558.0999999999999" width="77.4" height="1.3" fill="#8E0038" opacity="0.85"/><text x="335.6" y="567.0999999999999" font-size="4.95" fill="#2A2A2A" font-weight="normal" text-anchor="start" >Lorem Ipsum is simply dummy text</text><text x="335.6" y="574.0" font-size="4.95" fill="#2A2A2A" font-weight="normal" text-anchor="start" >of the printing and typesetting.</text><text x="435.79999999999995" y="557.8" font-size="18.3" fill="#8CBF00" font-weight="bold" text-anchor="start" >645k</text><rect x="436.4" y="558.0999999999999" width="77.4" height="1.3" fill="#8CBF00" opacity="0.85"/><text x="436.4" y="567.0999999999999" font-size="4.95" fill="#2A2A2A" font-weight="normal" text-anchor="start" >Lorem Ipsum is simply dummy text</text><text x="436.4" y="574.0" font-size="4.95" fill="#2A2A2A" font-weight="normal" text-anchor="start" >of the printing and typesetting.</text></g>
<g id="coins_part"><clipPath id="ck592"><path d="M576,416 L576,470 A16,6.3 0 0 0 608,470 L608,416Z"/></clipPath><path d="M576,416 L576,470 A16,6.3 0 0 0 608,470 L608,416Z" fill="#F88600"/><g clip-path="url(#ck592)"><path d="M576,423.7142857142857 A16,6.3 0 0 0 608,423.7142857142857" fill="none" stroke="#D96F00" stroke-width="1.3" opacity="0.75"/><path d="M576,431.42857142857144 A16,6.3 0 0 0 608,431.42857142857144" fill="none" stroke="#D96F00" stroke-width="1.3" opacity="0.75"/><path d="M576,439.14285714285717 A16,6.3 0 0 0 608,439.14285714285717" fill="none" stroke="#D96F00" stroke-width="1.3" opacity="0.75"/><path d="M576,446.85714285714283 A16,6.3 0 0 0 608,446.85714285714283" fill="none" stroke="#D96F00" stroke-width="1.3" opacity="0.75"/><path d="M576,454.57142857142856 A16,6.3 0 0 0 608,454.57142857142856" fill="none" stroke="#D96F00" stroke-width="1.3" opacity="0.75"/><path d="M576,462.2857142857143 A16,6.3 0 0 0 608,462.2857142857143" fill="none" stroke="#D96F00" stroke-width="1.3" opacity="0.75"/></g><ellipse cx="592" cy="416" rx="16" ry="6.3" fill="#F88600"/><ellipse cx="592" cy="416.3" rx="13.6" ry="5.2" fill="#E97A00"/><ellipse cx="592" cy="415.6" rx="11.8" ry="4.3" fill="#FFB152"/><g transform="translate(592,415.6) scale(1,0.62) rotate(62)"><text x="0" y="4.7" font-size="13" font-weight="bold" text-anchor="middle" fill="#D98A3A">$</text></g><clipPath id="ck650"><path d="M606.0,395 L606.0,548 A44.5,18.8 0 0 0 695.0,548 L695.0,395Z"/></clipPath><path d="M606.0,395 L606.0,548 A44.5,18.8 0 0 0 695.0,548 L695.0,395Z" fill="#00A8E1"/><g clip-path="url(#ck650)"><path d="M606.0,405.2 A44.5,18.8 0 0 0 695.0,405.2" fill="none" stroke="#0090C6" stroke-width="1.3" opacity="0.75"/><path d="M606.0,415.4 A44.5,18.8 0 0 0 695.0,415.4" fill="none" stroke="#0090C6" stroke-width="1.3" opacity="0.75"/><path d="M606.0,425.6 A44.5,18.8 0 0 0 695.0,425.6" fill="none" stroke="#0090C6" stroke-width="1.3" opacity="0.75"/><path d="M606.0,435.8 A44.5,18.8 0 0 0 695.0,435.8" fill="none" stroke="#0090C6" stroke-width="1.3" opacity="0.75"/><path d="M606.0,446.0 A44.5,18.8 0 0 0 695.0,446.0" fill="none" stroke="#0090C6" stroke-width="1.3" opacity="0.75"/><path d="M606.0,456.2 A44.5,18.8 0 0 0 695.0,456.2" fill="none" stroke="#0090C6" stroke-width="1.3" opacity="0.75"/><path d="M606.0,466.4 A44.5,18.8 0 0 0 695.0,466.4" fill="none" stroke="#0090C6" stroke-width="1.3" opacity="0.75"/><path d="M606.0,476.6 A44.5,18.8 0 0 0 695.0,476.6" fill="none" stroke="#0090C6" stroke-width="1.3" opacity="0.75"/><path d="M606.0,486.8 A44.5,18.8 0 0 0 695.0,486.8" fill="none" stroke="#0090C6" stroke-width="1.3" opacity="0.75"/><path d="M606.0,497.0 A44.5,18.8 0 0 0 695.0,497.0" fill="none" stroke="#0090C6" stroke-width="1.3" opacity="0.75"/><path d="M606.0,507.2 A44.5,18.8 0 0 0 695.0,507.2" fill="none" stroke="#0090C6" stroke-width="1.3" opacity="0.75"/><path d="M606.0,517.4 A44.5,18.8 0 0 0 695.0,517.4" fill="none" stroke="#0090C6" stroke-width="1.3" opacity="0.75"/><path d="M606.0,527.6 A44.5,18.8 0 0 0 695.0,527.6" fill="none" stroke="#0090C6" stroke-width="1.3" opacity="0.75"/><path d="M606.0,537.8 A44.5,18.8 0 0 0 695.0,537.8" fill="none" stroke="#0090C6" stroke-width="1.3" opacity="0.75"/></g><ellipse cx="650.5" cy="395" rx="44.5" ry="18.8" fill="#00A8E1"/><ellipse cx="650.5" cy="395.3" rx="37.8" ry="15.4" fill="#0796CC"/><ellipse cx="650.5" cy="394.6" rx="32.9" ry="12.8" fill="#12BEEF"/><g transform="translate(650.5,394.6) scale(1,0.62) rotate(62)"><text x="0" y="14.4" font-size="40" font-weight="bold" text-anchor="middle" fill="#1C8DBF">$</text></g><clipPath id="ck580"><path d="M553.5999999999999,448.5 L553.5999999999999,520 A27.2,11.5 0 0 0 608.0,520 L608.0,448.5Z"/></clipPath><path d="M553.5999999999999,448.5 L553.5999999999999,520 A27.2,11.5 0 0 0 608.0,520 L608.0,448.5Z" fill="#8E0039"/><g clip-path="url(#ck580)"><path d="M553.5999999999999,456.44444444444446 A27.2,11.5 0 0 0 608.0,456.44444444444446" fill="none" stroke="#74002D" stroke-width="1.3" opacity="0.75"/><path d="M553.5999999999999,464.3888888888889 A27.2,11.5 0 0 0 608.0,464.3888888888889" fill="none" stroke="#74002D" stroke-width="1.3" opacity="0.75"/><path d="M553.5999999999999,472.3333333333333 A27.2,11.5 0 0 0 608.0,472.3333333333333" fill="none" stroke="#74002D" stroke-width="1.3" opacity="0.75"/><path d="M553.5999999999999,480.27777777777777 A27.2,11.5 0 0 0 608.0,480.27777777777777" fill="none" stroke="#74002D" stroke-width="1.3" opacity="0.75"/><path d="M553.5999999999999,488.22222222222223 A27.2,11.5 0 0 0 608.0,488.22222222222223" fill="none" stroke="#74002D" stroke-width="1.3" opacity="0.75"/><path d="M553.5999999999999,496.1666666666667 A27.2,11.5 0 0 0 608.0,496.1666666666667" fill="none" stroke="#74002D" stroke-width="1.3" opacity="0.75"/><path d="M553.5999999999999,504.1111111111111 A27.2,11.5 0 0 0 608.0,504.1111111111111" fill="none" stroke="#74002D" stroke-width="1.3" opacity="0.75"/><path d="M553.5999999999999,512.0555555555555 A27.2,11.5 0 0 0 608.0,512.0555555555555" fill="none" stroke="#74002D" stroke-width="1.3" opacity="0.75"/></g><ellipse cx="580.8" cy="448.5" rx="27.2" ry="11.5" fill="#8E0039"/><ellipse cx="580.8" cy="448.8" rx="23.1" ry="9.4" fill="#7A0030"/><ellipse cx="580.8" cy="448.1" rx="20.1" ry="7.8" fill="#B03A6A"/><g transform="translate(580.8,448.1) scale(1,0.62) rotate(62)"><text x="0" y="8.6" font-size="24" font-weight="bold" text-anchor="middle" fill="#8E2252">$</text></g><clipPath id="ck553"><path d="M535.5,511.5 L535.5,568 A17.9,7.6 0 0 0 571.3,568 L571.3,511.5Z"/></clipPath><path d="M535.5,511.5 L535.5,568 A17.9,7.6 0 0 0 571.3,568 L571.3,511.5Z" fill="#00559F"/><g clip-path="url(#ck553)"><path d="M535.5,517.7777777777778 A17.9,7.6 0 0 0 571.3,517.7777777777778" fill="none" stroke="#00457F" stroke-width="1.3" opacity="0.75"/><path d="M535.5,524.0555555555555 A17.9,7.6 0 0 0 571.3,524.0555555555555" fill="none" stroke="#00457F" stroke-width="1.3" opacity="0.75"/><path d="M535.5,530.3333333333334 A17.9,7.6 0 0 0 571.3,530.3333333333334" fill="none" stroke="#00457F" stroke-width="1.3" opacity="0.75"/><path d="M535.5,536.6111111111111 A17.9,7.6 0 0 0 571.3,536.6111111111111" fill="none" stroke="#00457F" stroke-width="1.3" opacity="0.75"/><path d="M535.5,542.8888888888889 A17.9,7.6 0 0 0 571.3,542.8888888888889" fill="none" stroke="#00457F" stroke-width="1.3" opacity="0.75"/><path d="M535.5,549.1666666666666 A17.9,7.6 0 0 0 571.3,549.1666666666666" fill="none" stroke="#00457F" stroke-width="1.3" opacity="0.75"/><path d="M535.5,555.4444444444445 A17.9,7.6 0 0 0 571.3,555.4444444444445" fill="none" stroke="#00457F" stroke-width="1.3" opacity="0.75"/><path d="M535.5,561.7222222222222 A17.9,7.6 0 0 0 571.3,561.7222222222222" fill="none" stroke="#00457F" stroke-width="1.3" opacity="0.75"/></g><ellipse cx="553.4" cy="511.5" rx="17.9" ry="7.6" fill="#00559F"/><ellipse cx="553.4" cy="511.8" rx="15.2" ry="6.2" fill="#004C90"/><ellipse cx="553.4" cy="511.1" rx="13.2" ry="5.2" fill="#1E78C2"/><g transform="translate(553.4,511.1) scale(1,0.62) rotate(62)"><text x="0" y="5.0" font-size="14" font-weight="bold" text-anchor="middle" fill="#0F5CA6">$</text></g><clipPath id="ck662"><path d="M637.2,502.3 L637.2,564 A24.8,10.8 0 0 0 686.8,564 L686.8,502.3Z"/></clipPath><path d="M637.2,502.3 L637.2,564 A24.8,10.8 0 0 0 686.8,564 L686.8,502.3Z" fill="#86B800"/><g clip-path="url(#ck662)"><path d="M637.2,509.15555555555557 A24.8,10.8 0 0 0 686.8,509.15555555555557" fill="none" stroke="#6F9A00" stroke-width="1.3" opacity="0.75"/><path d="M637.2,516.0111111111112 A24.8,10.8 0 0 0 686.8,516.0111111111112" fill="none" stroke="#6F9A00" stroke-width="1.3" opacity="0.75"/><path d="M637.2,522.8666666666667 A24.8,10.8 0 0 0 686.8,522.8666666666667" fill="none" stroke="#6F9A00" stroke-width="1.3" opacity="0.75"/><path d="M637.2,529.7222222222222 A24.8,10.8 0 0 0 686.8,529.7222222222222" fill="none" stroke="#6F9A00" stroke-width="1.3" opacity="0.75"/><path d="M637.2,536.5777777777778 A24.8,10.8 0 0 0 686.8,536.5777777777778" fill="none" stroke="#6F9A00" stroke-width="1.3" opacity="0.75"/><path d="M637.2,543.4333333333334 A24.8,10.8 0 0 0 686.8,543.4333333333334" fill="none" stroke="#6F9A00" stroke-width="1.3" opacity="0.75"/><path d="M637.2,550.2888888888889 A24.8,10.8 0 0 0 686.8,550.2888888888889" fill="none" stroke="#6F9A00" stroke-width="1.3" opacity="0.75"/><path d="M637.2,557.1444444444444 A24.8,10.8 0 0 0 686.8,557.1444444444444" fill="none" stroke="#6F9A00" stroke-width="1.3" opacity="0.75"/></g><ellipse cx="662" cy="502.3" rx="24.8" ry="10.8" fill="#86B800"/><ellipse cx="662" cy="502.6" rx="21.1" ry="8.9" fill="#789F00"/><ellipse cx="662" cy="501.90000000000003" rx="18.4" ry="7.3" fill="#A2CF2A"/><g transform="translate(662,501.90000000000003) scale(1,0.62) rotate(62)"><text x="0" y="7.9" font-size="22" font-weight="bold" text-anchor="middle" fill="#7FA81A">$</text></g><clipPath id="ck604"><path d="M571.3,499.6 L571.3,562 A33.5,14.3 0 0 0 638.3,562 L638.3,499.6Z"/></clipPath><path d="M571.3,499.6 L571.3,562 A33.5,14.3 0 0 0 638.3,562 L638.3,499.6Z" fill="#EE3557"/><g clip-path="url(#ck604)"><path d="M571.3,507.40000000000003 A33.5,14.3 0 0 0 638.3,507.40000000000003" fill="none" stroke="#CF2445" stroke-width="1.3" opacity="0.75"/><path d="M571.3,515.2 A33.5,14.3 0 0 0 638.3,515.2" fill="none" stroke="#CF2445" stroke-width="1.3" opacity="0.75"/><path d="M571.3,523.0 A33.5,14.3 0 0 0 638.3,523.0" fill="none" stroke="#CF2445" stroke-width="1.3" opacity="0.75"/><path d="M571.3,530.8 A33.5,14.3 0 0 0 638.3,530.8" fill="none" stroke="#CF2445" stroke-width="1.3" opacity="0.75"/><path d="M571.3,538.6 A33.5,14.3 0 0 0 638.3,538.6" fill="none" stroke="#CF2445" stroke-width="1.3" opacity="0.75"/><path d="M571.3,546.4 A33.5,14.3 0 0 0 638.3,546.4" fill="none" stroke="#CF2445" stroke-width="1.3" opacity="0.75"/><path d="M571.3,554.2 A33.5,14.3 0 0 0 638.3,554.2" fill="none" stroke="#CF2445" stroke-width="1.3" opacity="0.75"/></g><ellipse cx="604.8" cy="499.6" rx="33.5" ry="14.3" fill="#EE3557"/><ellipse cx="604.8" cy="499.90000000000003" rx="28.5" ry="11.7" fill="#D92A4B"/><ellipse cx="604.8" cy="499.20000000000005" rx="24.8" ry="9.7" fill="#FF6A82"/><g transform="translate(604.8,499.20000000000005) scale(1,0.62) rotate(62)"><text x="0" y="10.8" font-size="30" font-weight="bold" text-anchor="middle" fill="#E04A66">$</text></g></g>
<g id="rainbow_part"><path d="M754.4,572.7 L754.4,465.5 A83.6,83.6 0 0 1 921.6,465.5 L921.6,503 L906.4,503 L906.4,465.5 A68.4,68.4 0 0 0 769.6,465.5 L769.6,572.7Z" fill="#00A9E2"/><path d="M769.6,572.7 L769.6,465.5 A68.4,68.4 0 0 1 906.4,465.5 L906.4,534.1 L891.2,534.1 L891.2,465.5 A53.2,53.2 0 0 0 784.8,465.5 L784.8,572.7Z" fill="#8BBD0A"/><path d="M784.8,572.7 L784.8,465.5 A53.2,53.2 0 0 1 891.2,465.5 L891.2,484.4 L876,484.4 L876,465.5 A38,38 0 0 0 800,465.5 L800,572.7Z" fill="#FF8D00"/><path d="M800,572.7 L800,465.5 A38,38 0 0 1 876,465.5 L876,515.1 L860.8,515.1 L860.8,465.5 A22.8,22.8 0 0 0 815.2,465.5 L815.2,572.7Z" fill="#F0365A"/><path d="M768.7,572.7 L768.7,465.5 A69.30000000000001,69.30000000000001 0 0 1 907.3,465.5 L907.3,503" fill="none" stroke="#0B3A6B" stroke-width="2.4"/><path d="M783.9,572.7 L783.9,465.5 A54.1,54.1 0 0 1 892.1,465.5 L892.1,534.1" fill="none" stroke="#4E6E00" stroke-width="2.4"/><path d="M799.1,572.7 L799.1,465.5 A38.9,38.9 0 0 1 876.9,465.5 L876.9,484.4" fill="none" stroke="#B45E00" stroke-width="2.4"/><path d="M814.3,572.7 L814.3,465.5 A23.7,23.7 0 0 1 861.7,465.5 L861.7,515.1" fill="none" stroke="#8E0A3C" stroke-width="2.4"/><circle cx="914.2" cy="503" r="15" fill="#00A9E2"/><circle cx="914.2" cy="503" r="9.2" fill="#FFFFFF"/><text x="914.2" y="507.7" font-size="13.2" fill="#00A9E2" font-weight="bold" text-anchor="middle" >D</text><circle cx="898.4" cy="534.1" r="15" fill="#8BBD0A"/><circle cx="898.4" cy="534.1" r="9.2" fill="#FFFFFF"/><text x="898.4" y="538.8000000000001" font-size="13.2" fill="#8BBD0A" font-weight="bold" text-anchor="middle" >C</text><circle cx="883.6" cy="484.4" r="15" fill="#FF8D00"/><circle cx="883.6" cy="484.4" r="9.2" fill="#FFFFFF"/><text x="883.6" y="489.09999999999997" font-size="13.2" fill="#FF8D00" font-weight="bold" text-anchor="middle" >B</text><circle cx="867.5" cy="515.1" r="15" fill="#F0365A"/><circle cx="867.5" cy="515.1" r="9.2" fill="#FFFFFF"/><text x="867.5" y="519.8000000000001" font-size="13.2" fill="#F0365A" font-weight="bold" text-anchor="middle" >A</text><text x="969.8" y="392.3" font-size="6.45" fill="#1a1a1a" font-weight="normal" text-anchor="start" letter-spacing="-0.12" stroke="#1a1a1a" stroke-width="0.12">Lorem ipsum is simply dummy text of the printing and typeset-</text><text x="969.8" y="402.1" font-size="6.45" fill="#1a1a1a" font-weight="normal" text-anchor="start" letter-spacing="-0.12" stroke="#1a1a1a" stroke-width="0.12">ting industry. Lorem ipsum has been the industry.</text><rect x="969.8" y="428.9" width="19.6" height="19.6" fill="#F7FEFF" stroke="#4A5560" stroke-width="1.1"/><text x="979.6" y="442.79999999999995" font-size="10.5" fill="#1F2A44" font-weight="bold" text-anchor="middle" >A</text><text x="1001.5" y="435.7" font-size="7.4" fill="#00A9E2" font-weight="bold" text-anchor="start" >Brainstorming</text><text x="1001.5" y="444.5" font-size="6.45" fill="#1a1a1a" font-weight="normal" text-anchor="start" letter-spacing="-0.12" stroke="#1a1a1a" stroke-width="0.12">Lorem ipsum is simply dummy text of the printing.</text><rect x="969.8" y="465.7" width="19.6" height="19.6" fill="#F7FEFF" stroke="#4A5560" stroke-width="1.1"/><text x="979.6" y="479.59999999999997" font-size="10.5" fill="#1F2A44" font-weight="bold" text-anchor="middle" >B</text><text x="1001.5" y="472.5" font-size="7.4" fill="#8BBD0A" font-weight="bold" text-anchor="start" >Prototyping</text><text x="1001.5" y="481.3" font-size="6.45" fill="#1a1a1a" font-weight="normal" text-anchor="start" letter-spacing="-0.12" stroke="#1a1a1a" stroke-width="0.12">Lorem ipsum is simply dummy text of the.</text><rect x="969.8" y="502.3" width="19.6" height="19.6" fill="#F7FEFF" stroke="#4A5560" stroke-width="1.1"/><text x="979.6" y="516.2" font-size="10.5" fill="#1F2A44" font-weight="bold" text-anchor="middle" >C</text><text x="1001.5" y="509.1" font-size="7.4" fill="#FF8D1A" font-weight="bold" text-anchor="start" >Development</text><text x="1001.5" y="517.9" font-size="6.45" fill="#1a1a1a" font-weight="normal" text-anchor="start" letter-spacing="-0.12" stroke="#1a1a1a" stroke-width="0.12">Lorem ipsum is simply dummy text of the printing.</text><rect x="969.8" y="539.3" width="19.6" height="19.6" fill="#F7FEFF" stroke="#4A5560" stroke-width="1.1"/><text x="979.6" y="553.1999999999999" font-size="10.5" fill="#1F2A44" font-weight="bold" text-anchor="middle" >D</text><text x="1001.5" y="546.0999999999999" font-size="7.4" fill="#F0365A" font-weight="bold" text-anchor="start" >End Product</text><text x="1001.5" y="554.9" font-size="6.45" fill="#1a1a1a" font-weight="normal" text-anchor="start" letter-spacing="-0.12" stroke="#1a1a1a" stroke-width="0.12">Lorem ipsum is simply dummy text of the.</text></g>
</svg>
</body></html>
